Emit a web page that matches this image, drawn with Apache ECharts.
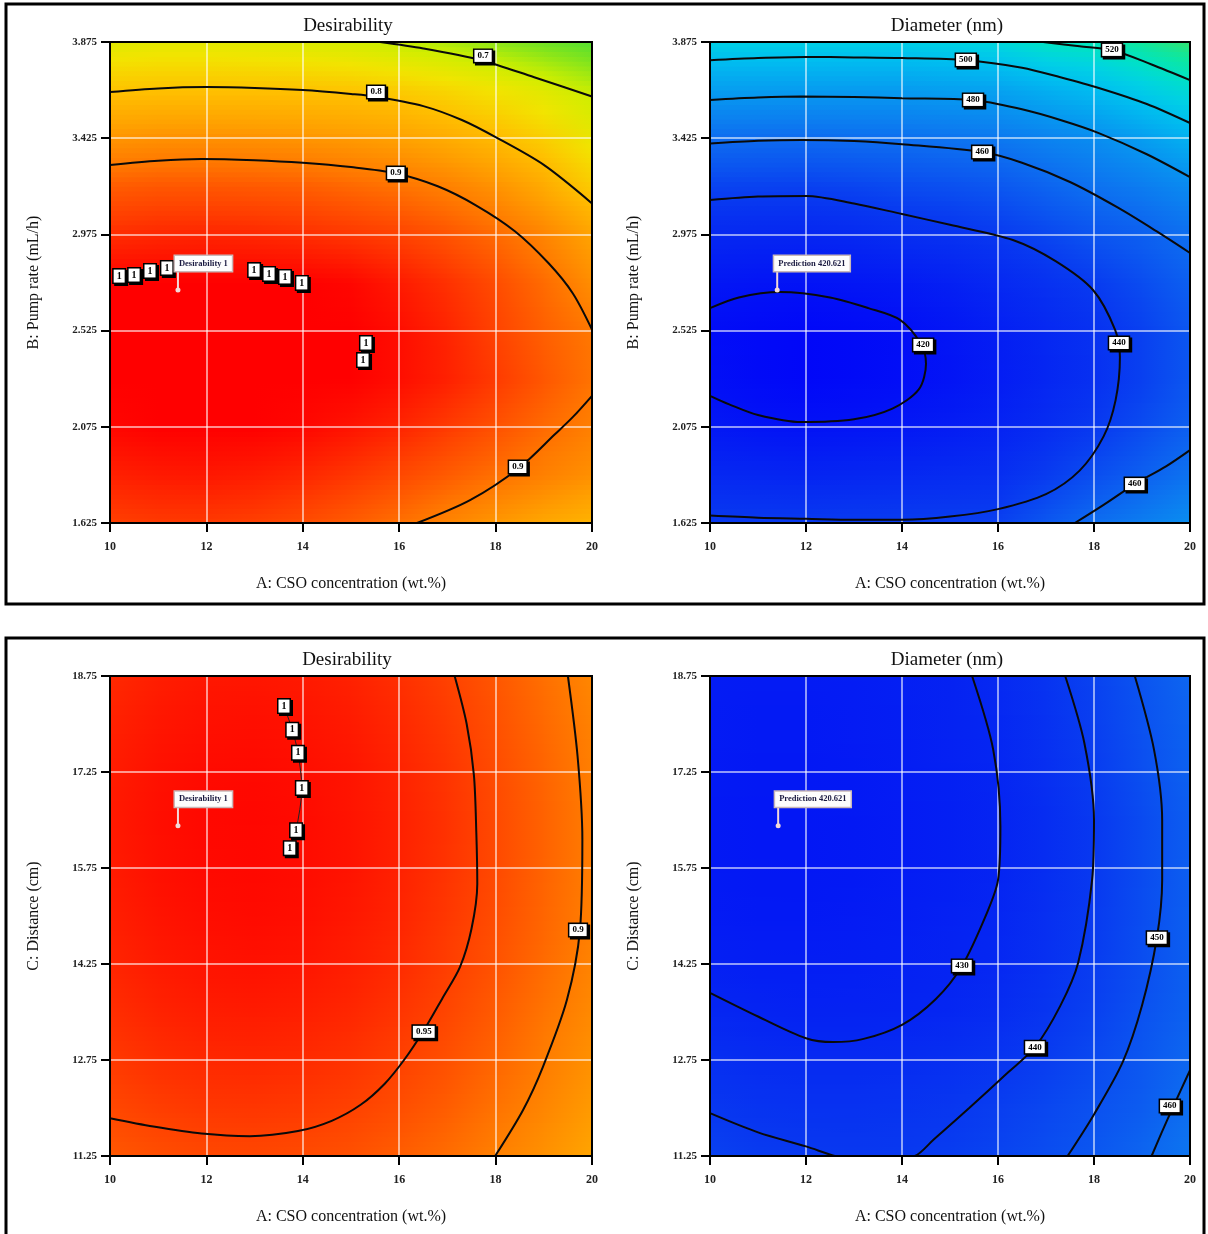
<!DOCTYPE html>
<html>
<head>
<meta charset="utf-8">
<script src="https://cdn.jsdelivr.net/npm/echarts@6/dist/echarts.min.js"></script>
<style>
  html, body { margin: 0; padding: 0; background: #fff; }
  #chart { width: 1208px; height: 1234px; }
</style>
</head>
<body>
<div id="chart"></div>
<script>
const xNodes = [10, 11, 12, 13, 14, 15, 16, 17, 18, 19, 20];
const pumpNodes = [1.625, 1.85, 2.075, 2.3, 2.525, 2.75, 2.975, 3.2, 3.425, 3.65, 3.875];
const distNodes = [11.25, 12, 12.75, 13.5, 14.25, 15, 15.75, 16.5, 17.25, 18, 18.75];

// rows go bottom -> top, columns x = 10..20
const desirPump = [
  [0.95, 0.955, 0.955, 0.95, 0.94, 0.925, 0.907, 0.885, 0.862, 0.84, 0.82],
  [0.975, 0.98, 0.982, 0.978, 0.97, 0.958, 0.943, 0.926, 0.908, 0.89, 0.87],
  [0.995, 1, 1, 1, 0.995, 0.985, 0.972, 0.955, 0.935, 0.913, 0.89],
  [1, 1, 1, 1, 1, 1, 0.99, 0.975, 0.955, 0.93, 0.905],
  [1, 1, 1, 1, 1, 1, 0.99, 0.972, 0.948, 0.922, 0.9],
  [1, 1, 1, 1, 1, 0.995, 0.98, 0.962, 0.94, 0.912, 0.872],
  [0.965, 0.97, 0.972, 0.97, 0.965, 0.958, 0.948, 0.933, 0.913, 0.885, 0.845],
  [0.925, 0.93, 0.93, 0.928, 0.924, 0.915, 0.905, 0.89, 0.868, 0.835, 0.785],
  [0.865, 0.87, 0.871, 0.869, 0.865, 0.858, 0.848, 0.832, 0.81, 0.78, 0.74],
  [0.797, 0.8, 0.8, 0.8, 0.798, 0.795, 0.785, 0.77, 0.75, 0.725, 0.695],
  [0.725, 0.73, 0.73, 0.725, 0.72, 0.71, 0.695, 0.68, 0.66, 0.64, 0.62]
];
const diamPump = [
  [441, 441, 441, 441.5, 442, 442.5, 443, 452, 462, 470, 478],
  [432, 431, 430, 431, 432, 433.5, 435, 441, 448, 456, 465],
  [424, 422, 421, 422, 423.5, 426, 429, 434, 440, 447, 456],
  [419.5, 416.5, 414.5, 416.5, 418.5, 422, 426, 431, 436, 443, 452],
  [418, 416, 414.5, 416.5, 419, 422.5, 427, 431.5, 436.5, 443, 452],
  [423.5, 422, 421.5, 423, 425, 428, 432, 436.5, 441, 447.5, 456],
  [432, 431.5, 431, 432.5, 435, 437, 440, 445, 451, 456, 463],
  [444, 443.5, 443, 444.5, 447, 449, 452, 458, 464, 469, 476],
  [462, 461.5, 461, 462, 463, 465, 467, 472, 477, 485, 494],
  [485, 484.5, 484, 484, 484, 485.5, 487, 493, 499, 507, 515],
  [509, 509, 509, 508.5, 508, 510, 513, 520, 522.5, 529, 537]
];
const desirDist = [
  [0.929, 0.938, 0.943, 0.944, 0.941, 0.935, 0.924, 0.91, 0.891, 0.869, 0.843],
  [0.943, 0.952, 0.957, 0.958, 0.955, 0.949, 0.938, 0.924, 0.905, 0.883, 0.857],
  [0.955, 0.964, 0.969, 0.97, 0.967, 0.961, 0.95, 0.936, 0.917, 0.895, 0.869],
  [0.964, 0.973, 0.978, 0.979, 0.976, 0.97, 0.959, 0.945, 0.926, 0.904, 0.878],
  [0.971, 0.98, 0.985, 0.987, 0.984, 0.977, 0.967, 0.952, 0.934, 0.912, 0.886],
  [0.976, 0.985, 0.99, 0.992, 0.989, 0.982, 0.972, 0.957, 0.939, 0.917, 0.891],
  [0.979, 0.988, 0.993, 0.994, 0.991, 0.985, 0.974, 0.96, 0.942, 0.919, 0.893],
  [0.98, 0.989, 0.994, 0.995, 0.992, 0.985, 0.975, 0.961, 0.942, 0.92, 0.894],
  [0.978, 0.987, 0.992, 0.993, 0.99, 0.984, 0.973, 0.959, 0.94, 0.918, 0.892],
  [0.974, 0.983, 0.988, 0.989, 0.986, 0.98, 0.969, 0.955, 0.936, 0.914, 0.888],
  [0.968, 0.977, 0.982, 0.983, 0.98, 0.974, 0.963, 0.949, 0.93, 0.908, 0.882]
];
const diamDist = [
  [443.5, 441.5, 440.4, 440, 440.3, 441.8, 444.5, 448, 452, 458.5, 466],
  [439.6, 437.6, 436.7, 436.7, 437.6, 439.3, 442, 445.5, 449.6, 454.5, 463],
  [435.5, 433.8, 433, 433, 433.8, 435.5, 438.2, 441.8, 446.4, 452, 459.6],
  [431.2, 429.8, 429, 429.2, 429.8, 431.3, 434, 438.3, 443.3, 449.7, 457],
  [428, 427, 426.8, 427.3, 428.3, 429.5, 431.8, 436.3, 441.5, 448.2, 456],
  [425.3, 424.5, 424.5, 425.2, 426.6, 428.5, 430.8, 435.3, 440.7, 447.8, 455.8],
  [424.7, 423.8, 423.7, 424.4, 425.7, 427.7, 430, 434.7, 440.2, 447.3, 455.3],
  [424.5, 423.5, 423.5, 424.2, 425.5, 427.5, 429.8, 434.5, 440, 447, 455],
  [425, 424, 424, 424.8, 426.2, 428.2, 430.6, 435.5, 441.3, 448.5, 456.5],
  [425.5, 424.7, 424.7, 425.5, 427, 429, 431.5, 436.5, 442.5, 449.6, 457.5],
  [426, 425.5, 425.5, 426.3, 427.7, 429, 432.5, 437.5, 444, 451, 459]
];

// colour ramps (evenly spaced over lo..hi)
const desirColors = ['#3cdc3c', '#7ee41e', '#cdee00', '#f2e400', '#ffc000', '#ffa000', '#ff7800', '#ff4000', '#ff0000'];
const diamColors = ['#0000fa', '#0210f6', '#0524f2', '#0838f0', '#0b52f0', '#0d68f0', '#0c7ef0', '#0892f0',
  '#04a8f0', '#00bef0', '#00d2e4', '#00e2c4', '#10e898', '#40e060'];

// contour lines
const desirPumpLines = [
  [[15.6, 3.875], [16.5, 3.845], [17.7, 3.79], [18.8, 3.71], [20, 3.62]],
  [[10, 3.641], [11, 3.658], [12, 3.664], [13, 3.66], [14, 3.65], [15, 3.632], [15.5, 3.62], [16.5, 3.575],
    [17.3, 3.51], [18, 3.43], [19, 3.3], [20, 3.12]],
  [[10, 3.3], [11, 3.32], [11.9, 3.328], [13, 3.322], [14, 3.31], [15, 3.29], [15.9, 3.262], [16.8, 3.2],
    [17.6, 3.11], [18.4, 2.99], [19.1, 2.84], [19.6, 2.7], [20, 2.53]],
  [[20, 2.22], [19.6, 2.12], [19.23, 2.04], [18.5, 1.885], [17.47, 1.732], [16.37, 1.625]]
];
const desirPumpLabels = [[17.74, 3.81, '0.7'], [15.52, 3.641, '0.8'], [15.93, 3.262, '0.9'], [18.46, 1.887, '0.9']];
const desirPumpOnes = [[10.19, 2.78], [10.5, 2.785], [10.83, 2.804], [11.18, 2.818], [12.99, 2.808],
  [13.3, 2.79], [13.63, 2.776], [13.98, 2.748], [15.31, 2.467], [15.25, 2.387]];

const diamPumpLines = [
  [[16.94, 3.875], [17.7, 3.855], [18.4, 3.835], [19.2, 3.77], [20, 3.697]],
  [[10, 3.79], [11, 3.8], [12, 3.805], [13, 3.803], [14, 3.8], [15.33, 3.79], [16.5, 3.755], [17.3, 3.71],
    [18.1, 3.66], [19.1, 3.585], [20, 3.496]],
  [[10, 3.604], [11, 3.615], [11.9, 3.62], [13, 3.618], [14, 3.612], [15.48, 3.604], [16.5, 3.56], [17.3, 3.51],
    [18.1, 3.449], [19.1, 3.35], [20, 3.243]],
  [[10, 3.4], [11, 3.413], [11.9, 3.417], [13, 3.412], [14, 3.397], [15.67, 3.36], [16.5, 3.31], [17.5, 3.22],
    [18.5, 3.1], [19.3, 2.99], [20, 2.888]],
  [[10, 3.136], [11, 3.152], [12, 3.155], [13, 3.12], [14, 3.07], [15, 3.02], [16.31, 2.949], [17.2, 2.85],
    [17.98, 2.715], [18.44, 2.528], [18.54, 2.4], [18.45, 2.2], [18.2, 2.03], [17.7, 1.87], [17, 1.76],
    [16, 1.69], [15, 1.655], [14, 1.64], [13, 1.64], [12, 1.645], [11, 1.65], [10, 1.66]],
  [[10, 2.63], [10.6, 2.68], [11.46, 2.705], [12.5, 2.68], [13.3, 2.63], [13.96, 2.575], [14.4, 2.46],
    [14.5, 2.37], [14.35, 2.25], [13.8, 2.16], [13, 2.11], [11.9, 2.097], [11, 2.13], [10.4, 2.18], [10, 2.22]],
  [[20, 1.966], [19.5, 1.89], [18.85, 1.807], [18.2, 1.71], [17.6, 1.625]]
];
const diamPumpLabels = [[18.375, 3.838, '520'], [15.33, 3.791, '500'], [15.48, 3.604, '480'], [15.67, 3.36, '460'],
  [14.44, 2.458, '420'], [18.52, 2.467, '440'], [18.85, 1.807, '460']];

const desirDistLines = [
  [[10, 11.84], [10.9, 11.71], [11.9, 11.6], [12.9, 11.56], [13.9, 11.64], [14.6, 11.8], [15.2, 12.05],
    [15.7, 12.38], [16.1, 12.75], [16.5, 13.2], [16.9, 13.72], [17.26, 14.2], [17.5, 14.8], [17.62, 15.5],
    [17.6, 16.3], [17.55, 17.2], [17.4, 18], [17.15, 18.75]],
  [[19.5, 18.75], [19.7, 17.5], [19.8, 16.2], [19.75, 14.78], [19.48, 13.69], [18.98, 12.64], [18.57, 11.97],
    [17.99, 11.25]]
];
const desirDistLabels = [[16.51, 13.19, '0.95'], [19.71, 14.78, '0.9']];
const desirDistOnes = [[13.61, 18.28], [13.78, 17.91], [13.9, 17.55], [13.98, 17.0], [13.86, 16.34], [13.73, 16.06]];

const diamDistLines = [
  [[10, 13.8], [11, 13.43], [12, 13.09], [12.56, 13.03], [13.2, 13.08], [14, 13.3], [14.7, 13.7], [15.25, 14.22],
    [15.77, 15.05], [16, 15.56], [16.05, 16.4], [15.9, 17.6], [15.46, 18.75]],
  [[10, 11.92], [11, 11.62], [12, 11.4], [12.6, 11.25], [13.4, 11.1], [14.27, 11.25], [14.65, 11.5], [15.4, 12],
    [16.2, 12.55], [16.77, 12.95], [17.3, 13.6], [17.67, 14.27], [17.96, 15.56], [18, 16.5], [17.8, 17.7],
    [17.4, 18.75]],
  [[17.45, 11.25], [18, 11.9], [18.6, 12.72], [19, 13.6], [19.31, 14.66], [19.42, 15.56], [19.42, 16.5],
    [19.25, 17.6], [18.85, 18.75]],
  [[20, 12.59], [19.65, 12.02], [19.4, 11.6], [19.2, 11.25]]
];
const diamDistLabels = [[15.25, 14.22, '430'], [16.77, 12.95, '440'], [19.31, 14.66, '450'], [19.58, 12.03, '460']];

// optimum flags
const flagText = ['Desirability 1', 'Prediction 420.621', 'Desirability 1', 'Prediction 420.621'];
const flagPoint = [[11.41, 2.715], [11.4, 2.715], [11.41, 16.41], [11.42, 16.41]];

const serif = '"Liberation Serif", "Times New Roman", serif';

const chart = echarts.init(document.getElementById('chart'));

function cells(xs, ys, z) {
  const out = [];
  for (let j = 0; j < ys.length - 1; j++) {
    for (let i = 0; i < xs.length - 1; i++) {
      out.push([xs[i], xs[i + 1], ys[j], ys[j + 1], z[j][i], z[j][i + 1], z[j + 1][i], z[j + 1][i + 1]]);
    }
  }
  return out;
}

function surfaceRender(colors, lo, hi) {
  const col = v => echarts.color.lerp(Math.min(1, Math.max(0, (v - lo) / (hi - lo))), colors);
  return function (params, api) {
    const p0 = api.coord([api.value(0), api.value(2)]);
    const p1 = api.coord([api.value(1), api.value(3)]);
    const a = api.value(4), b = api.value(5), c = api.value(6), d = api.value(7);
    const n = 10;
    const h = (p0[1] - p1[1]) / n;
    const children = [];
    for (let k = 0; k < n; k++) {
      const t = (k + 0.5) / n;
      children.push({
        type: 'rect',
        shape: { x: p0[0] - 0.5, y: p0[1] - (k + 1) * h - 0.5, width: p1[0] - p0[0] + 1, height: h + 1 },
        style: {
          fill: new echarts.graphic.LinearGradient(0, 0, 1, 0, [
            { offset: 0, color: col(a + (c - a) * t) },
            { offset: 1, color: col(b + (d - b) * t) }
          ])
        }
      });
    }
    return { type: 'group', silent: true, children };
  };
}

// white boxed label with a hard black drop shadow
function boxRender(texts, size) {
  return function (params, api) {
    const c = api.coord([api.value(0), api.value(1)]);
    const text = texts[params.dataIndex];
    const base = {
      text, font: 'bold ' + size + 'px ' + serif, align: 'center', verticalAlign: 'middle',
      borderWidth: 1.5, padding: [2, 3, 1, 3]
    };
    return {
      type: 'group',
      children: [
        { type: 'text', x: c[0] + 2, y: c[1] + 2, style: Object.assign({}, base, { fill: '#000', backgroundColor: '#000', borderColor: '#000' }) },
        { type: 'text', x: c[0], y: c[1], style: Object.assign({}, base, { fill: '#000', backgroundColor: '#fff', borderColor: '#000' }) }
      ]
    };
  };
}

const plots = [
  { z: desirPump, ys: pumpNodes, colors: desirColors, lo: 0.6, hi: 1, lines: desirPumpLines, labels: desirPumpLabels, ones: desirPumpOnes },
  { z: diamPump, ys: pumpNodes, colors: diamColors, lo: 410, hi: 540, lines: diamPumpLines, labels: diamPumpLabels, ones: [] },
  { z: desirDist, ys: distNodes, colors: desirColors, lo: 0.6, hi: 1, lines: desirDistLines, labels: desirDistLabels, ones: desirDistOnes },
  { z: diamDist, ys: distNodes, colors: diamColors, lo: 410, hi: 540, lines: diamDistLines, labels: diamDistLabels, ones: [] }
];

const grids = [
  { left: 110, top: 42, width: 482, height: 481 },
  { left: 710, top: 42, width: 480, height: 481 },
  { left: 110, top: 676, width: 482, height: 480 },
  { left: 710, top: 676, width: 480, height: 480 }
].map(g => Object.assign(g, { show: true, borderColor: '#000', borderWidth: 2, backgroundColor: 'transparent', z: 8 }));

const xAxes = grids.map((g, i) => ({
  type: 'value', gridIndex: i, min: 10, max: 20, interval: 2, z: 3,
  name: 'A: CSO concentration (wt.%)', nameLocation: 'middle', nameGap: 53,
  nameTextStyle: { fontFamily: serif, fontSize: 16, color: '#111' },
  axisLine: { show: true, lineStyle: { color: '#000', width: 2 } },
  axisTick: { show: true, length: 9, lineStyle: { color: '#000', width: 2 } },
  axisLabel: { fontFamily: serif, fontWeight: 'bold', fontSize: 12, color: '#222', margin: 18 },
  splitLine: { show: true, lineStyle: { color: 'rgba(255,255,255,0.75)', width: 1.5 } }
}));

const yAxes = grids.map((g, i) => {
  const top = i < 2;
  return {
    type: 'value', gridIndex: i, z: 3,
    min: top ? 1.625 : 11.25, max: top ? 3.875 : 18.75, interval: top ? 0.45 : 1.5,
    name: top ? 'B: Pump rate (mL/h)' : 'C: Distance (cm)', nameLocation: 'middle', nameGap: 68,
    nameTextStyle: { fontFamily: serif, fontSize: 16, color: '#111' },
    axisLine: { show: true, lineStyle: { color: '#000', width: 2 } },
    axisTick: { show: true, length: 9, lineStyle: { color: '#000', width: 2 } },
    axisLabel: {
      fontFamily: serif, fontWeight: 'bold', fontSize: 11, color: '#222', margin: 13,
      formatter: v => v.toFixed(top ? 3 : 2)
    },
    splitLine: { show: true, lineStyle: { color: 'rgba(255,255,255,0.75)', width: 1.5 } }
  };
});

const series = [];
plots.forEach((p, i) => {
  series.push({
    type: 'custom', xAxisIndex: i, yAxisIndex: i, z: 1, clip: true, silent: true,
    renderItem: surfaceRender(p.colors, p.lo, p.hi),
    data: cells(xNodes, p.ys, p.z)
  });
  p.lines.forEach(pts => {
    series.push({
      type: 'line', xAxisIndex: i, yAxisIndex: i, z: 5, data: pts, smooth: 0.3,
      showSymbol: false, symbol: 'none', clip: true, silent: true,
      lineStyle: { color: '#0a0a0a', width: 2 }
    });
  });
  if (i === 2) {
    series.push({
      type: 'line', xAxisIndex: i, yAxisIndex: i, z: 5, data: p.ones, smooth: 0.3,
      symbol: 'none', silent: true, lineStyle: { color: '#222', width: 1 }
    });
  }
  series.push({
    type: 'custom', xAxisIndex: i, yAxisIndex: i, z: 6, silent: true,
    data: p.labels.map(l => [l[0], l[1]]),
    renderItem: boxRender(p.labels.map(l => l[2]), 9)
  });
  if (p.ones.length) {
    series.push({
      type: 'custom', xAxisIndex: i, yAxisIndex: i, z: 6, silent: true,
      data: p.ones,
      renderItem: boxRender(p.ones.map(() => '1'), 10)
    });
  }
  series.push({
    type: 'custom', xAxisIndex: i, yAxisIndex: i, z: 7, silent: true,
    data: [flagPoint[i]],
    renderItem: (params, api) => {
      const c = api.coord([api.value(0), api.value(1)]);
      return {
        type: 'group',
        children: [
          { type: 'line', shape: { x1: c[0], y1: c[1], x2: c[0], y2: c[1] - 20 }, style: { stroke: '#f3d9d9', lineWidth: 2 } },
          { type: 'circle', shape: { cx: c[0], cy: c[1], r: 2.5 }, style: { fill: '#f3d9d9' } },
          {
            type: 'text', x: c[0] - 3, y: c[1] - 34,
            style: {
              text: flagText[i], font: 'bold 8.5px ' + serif, fill: '#1a1a40',
              backgroundColor: '#fdfdfd', borderColor: '#c9b8b8', borderWidth: 1.5, padding: [3, 4]
            }
          }
        ]
      };
    }
  });
});

const titles = [['Desirability', 348, 26], ['Diameter (nm)', 947, 26], ['Desirability', 347, 660], ['Diameter (nm)', 947, 660]];

chart.setOption({
  animation: false,
  backgroundColor: '#fff',
  grid: grids,
  xAxis: xAxes,
  yAxis: yAxes,
  series,
  graphic: [
    { type: 'rect', shape: { x: 6, y: 4, width: 1198, height: 600 }, style: { fill: 'none', stroke: '#000', lineWidth: 3 }, silent: true },
    { type: 'rect', shape: { x: 6, y: 638, width: 1198, height: 640 }, style: { fill: 'none', stroke: '#000', lineWidth: 3 }, silent: true }
  ].concat(titles.map(t => ({
    type: 'text', x: t[1], y: t[2], silent: true,
    style: { text: t[0], font: '19px ' + serif, fill: '#111', textAlign: 'center', textVerticalAlign: 'middle' }
  })))
});
</script>
</body>
</html>
